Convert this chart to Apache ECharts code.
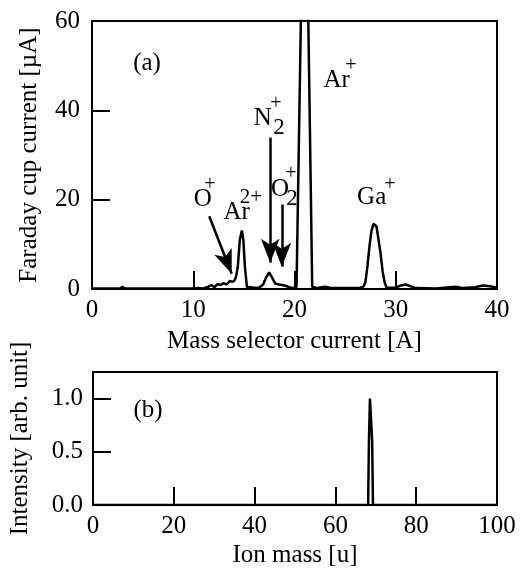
<!DOCTYPE html>
<html>
<head>
<meta charset="utf-8">
<script src="https://cdn.jsdelivr.net/npm/echarts@6/dist/echarts.min.js"></script>
<style>html,body{margin:0;padding:0;background:#fff;}#c{width:520px;height:569px;}</style>
</head>
<body>
<div id="c"></div>
<script>
// Panel (a): Faraday cup current vs mass selector current
const currentA = [0,2.8,3.0,3.2,10,10.5,11,11.5,11.8,12.1,12.4,12.7,13.0,13.3,13.6,13.9,14.1,14.25,14.4,14.6,14.8,14.95,15.1,15.3,16.0,16.5,16.9,17.2,17.5,17.8,18.1,18.5,19.0,19.5,19.9,20.2,20.7,21.3,21.75,22.2,23.0,23.5,24,26.5,26.8,27.0,27.2,27.4,27.6,27.8,27.95,28.1,28.3,28.5,28.7,28.9,29.1,30,30.5,31.0,31.5,32,34,35.3,36,36.6,37.8,38.6,39.3,40];
const faradayUA = [0.1,0.1,0.5,0.1,0.1,0.2,0.1,0.5,0.9,0.4,1.1,0.9,1.3,1.0,1.8,1.6,2.0,3.0,5.0,11.0,13.1,11.0,5.0,0.5,0.3,0.3,1.0,2.6,3.7,2.5,1.2,1.0,0.8,0.4,0.2,0.5,70,70,0.5,0.2,0.5,0.3,0.2,0.3,0.5,1.5,5.0,9.5,13.0,14.6,14.8,14.0,11.0,8.0,4.0,1.5,0.3,0.3,0.8,1.0,0.6,0.2,0.1,0.4,0.5,0.2,0.4,0.8,0.6,0.3];
// Panel (b): intensity vs ion mass
const ionMass = [0,68.1,68.3,68.55,68.85,69.1,69.3,100];
const intensity = [0,0,0.6,1.0,1.0,0.6,0,0];
// Tick settings
const xTicksA = {min:0,max:40,interval:10};
const yTicksA = {min:0,max:60,interval:20};
const xTicksB = {min:0,max:100,interval:20};
const yTicksB = {min:0,max:1.25,interval:0.5};
// Arrows in data coordinates of panel (a): [x1,y1,x2,y2]
const arrowsA = [[11.58,16.3,13.8,3.4],[17.6,33.9,17.6,5.9],[18.75,18.9,18.75,5.0]];

const FONT = 'Liberation Serif';
const chart = echarts.init(document.getElementById('c'), null, {renderer:'canvas'});

function pairs(xs, ys){ return xs.map((x,i)=>[x, ys[i]]); }

const axisCommon = {
  axisLine:{show:true, lineStyle:{color:'#000', width:2}},
  axisTick:{show:true, inside:true, length:18, lineStyle:{color:'#000', width:2}},
  splitLine:{show:false},
  axisLabel:{color:'#000', fontFamily:FONT, fontSize:25},
  nameTextStyle:{color:'#000', fontFamily:FONT, fontSize:25},
  nameLocation:'middle'
};

function txt(x,y,t,size){
  return {type:'text', x:x, y:y, style:{text:t, font: size+'px "'+FONT+'"', fill:'#000', align:'center', verticalAlign:'middle'}};
}

const labels = [
  txt(147,63,'(a)',25),
  txt(336.7,80,'Ar',25), txt(351,66,'+',20),
  txt(262.7,118,'N',25), txt(279,128,'2',23), txt(276,104,'+',20),
  txt(202.7,199,'O',25), txt(210,185,'+',20),
  txt(236.7,212,'Ar',25), txt(251,197,'2+',21),
  txt(280,189,'O',25), txt(292,198.5,'2',23), txt(291,174,'+',20),
  txt(371.7,197,'Ga',25), txt(390,185,'+',20),
  txt(148,410,'(b)',25)
];

const option = {
  animation:false,
  backgroundColor:'#fff',
  grid:[
    {left:92, top:21, width:405, height:268, show:true, borderColor:'#000', borderWidth:2, containLabel:false},
    {left:92, top:372, width:405, height:135, show:true, borderColor:'#000', borderWidth:2, containLabel:false}
  ],
  xAxis:[
    Object.assign({}, axisCommon, {type:'value', gridIndex:0, min:xTicksA.min, max:xTicksA.max, interval:xTicksA.interval,
      name:'Mass selector current [A]', nameGap:40, axisLabel:Object.assign({}, axisCommon.axisLabel, {margin:9})}),
    Object.assign({}, axisCommon, {type:'value', gridIndex:1, min:xTicksB.min, max:xTicksB.max, interval:xTicksB.interval,
      name:'Ion mass [u]', nameGap:38, axisLabel:Object.assign({}, axisCommon.axisLabel, {margin:9})})
  ],
  yAxis:[
    Object.assign({}, axisCommon, {type:'value', gridIndex:0, min:yTicksA.min, max:yTicksA.max, interval:yTicksA.interval,
      name:'Faraday cup current [\u00b5A]', nameGap:50, axisLabel:Object.assign({}, axisCommon.axisLabel, {margin:12})}),
    Object.assign({}, axisCommon, {type:'value', gridIndex:1, min:yTicksB.min, max:yTicksB.max, interval:yTicksB.interval,
      name:'Intensity [arb. unit]', nameGap:60,
      axisLabel:Object.assign({}, axisCommon.axisLabel, {margin:10, showMaxLabel:false,
        formatter:function(v){ return (Math.abs(v/0.5 - Math.round(v/0.5))<1e-6) ? v.toFixed(1) : ''; }})})
  ],
  series:[
    {type:'line', xAxisIndex:0, yAxisIndex:0, data:pairs(currentA, faradayUA), showSymbol:false, symbol:'none', clip:true,
      lineStyle:{color:'#000', width:2.5}, z:3,
      markLine:{silent:true, symbol:['none','arrow'], symbolSize:[14,24], label:{show:false},
        lineStyle:{color:'#000', width:2.5, type:'solid'},
        data: arrowsA.map(a=>[{coord:[a[0],a[1]]},{coord:[a[2],a[3]]}])}},
    {type:'line', xAxisIndex:1, yAxisIndex:1, data:pairs(ionMass, intensity), showSymbol:false, symbol:'none', clip:true,
      lineStyle:{color:'#000', width:2.5}, z:3}
  ],
  graphic: labels
};
chart.setOption(option);
</script>
</body>
</html>
